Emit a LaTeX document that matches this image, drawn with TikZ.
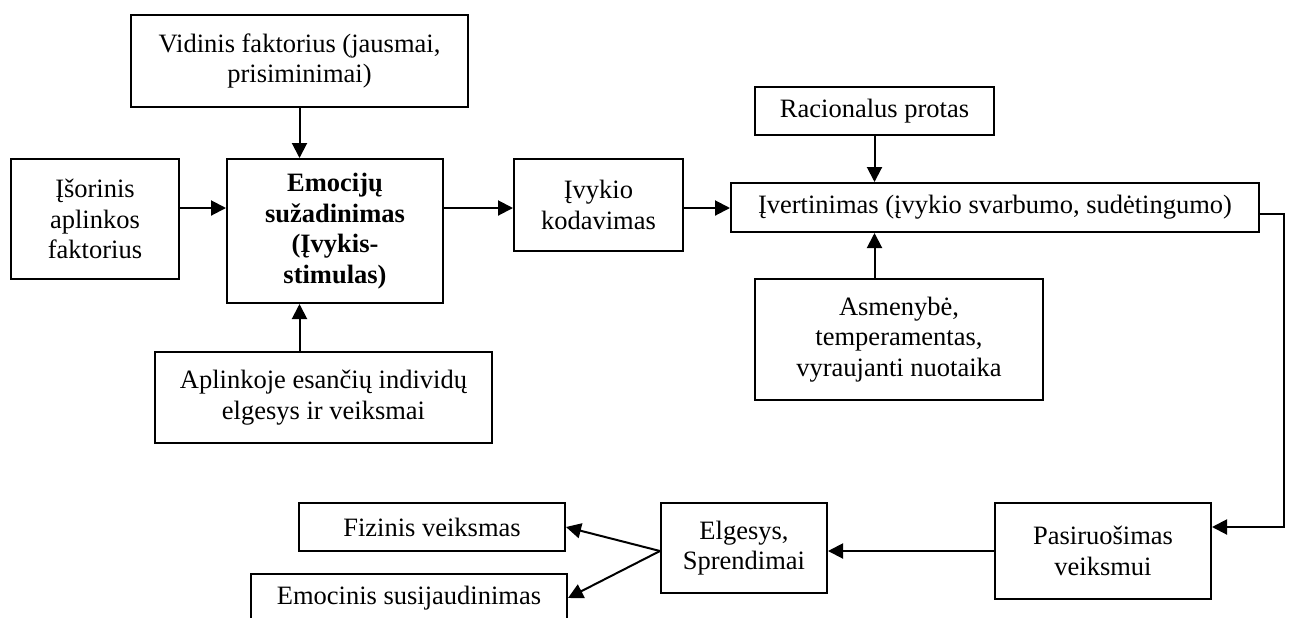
\documentclass[tikz,border=0pt]{standalone}
\usepackage{fontspec}
\setmainfont{Liberation Serif}
\usetikzlibrary{arrows.meta}
\begin{document}
\begin{tikzpicture}[x=0.5pt,y=-0.5pt,
  box/.style={draw, line width=1pt, rectangle, inner sep=0pt, align=center,
    font=\fontsize{13.25}{15.3}\selectfont},
  link/.style={line width=1pt, -{Triangle[length=7.5pt,width=7.5pt]}}]
\useasboundingbox (0,0) rectangle (1291,617);
\clip (0,0) rectangle (1291,617);

% boxes
\node[box, minimum width=168.5pt, minimum height=46pt] (vid) at (299.5,61)
  {Vidinis faktorius (jausmai,\\prisiminimai)};
\node[box, minimum width=84pt, minimum height=60pt] (isor) at (95,219)
  {Įšorinis\\aplinkos\\faktorius};
\node[box, minimum width=108pt, minimum height=72pt, font=\fontsize{13.25}{15.3}\selectfont\bfseries] (emo) at (335,231)
  {Emocijų\\sužadinimas\\(Įvykis-\\stimulas)};
\node[box, minimum width=168.5pt, minimum height=45.5pt] (apl) at (323.5,397.5)
  {Aplinkoje esančių individų\\elgesys ir veiksmai};
\node[box, minimum width=84.5pt, minimum height=46pt] (kod) at (598.5,205)
  {Įvykio\\kodavimas};
\node[box, minimum width=119.5pt, minimum height=24pt] (rac) at (874.5,111)
  {Racionalus protas};
\node[box, minimum width=264pt, minimum height=24.5pt] (ivert) at (995,207.5)
  {Įvertinimas (įvykio svarbumo, sudėtingumo)};
\node[box, minimum width=144pt, minimum height=60.5pt] (asm) at (899,339.5)
  {Asmenybė,\\temperamentas,\\vyraujanti nuotaika};
\node[box, minimum width=108pt, minimum height=48pt] (pas) at (1103,551)
  {Pasiruošimas\\veiksmui};
\node[box, minimum width=83pt, minimum height=45pt] (elg) at (744,548)
  {Elgesys,\\Sprendimai};
\node[box, minimum width=133pt, minimum height=24pt] (fiz) at (432,527)
  {Fizinis veiksmas};
\node[box, minimum width=158pt, minimum height=24pt] (emc) at (409,598)
  {Emocinis susijaudinimas};

% connectors
\coordinate (row) at (0,208);
\draw[link] (vid.south) -- (vid.south |- emo.north);
\draw[link] (isor.east |- row) -- (emo.west |- row);
\draw[link] (vid.south |- apl.north) -- (vid.south |- emo.south);
\draw[link] (emo.east |- row) -- (kod.west |- row);
\draw[link] (kod.east |- row) -- (ivert.west |- row);
\draw[link] (rac.south) -- (rac.south |- ivert.north);
\draw[link] (rac.south |- asm.north) -- (rac.south |- ivert.south);
\draw[link] ([yshift=-3.25pt]ivert.east) -- ++(12pt,0) |- ([yshift=12pt]pas.east);
\draw[link] (pas.west) -- (elg.east |- pas.west);
\coordinate (fork) at (elg.west |- pas.west);
\draw[link] (fork) -- (fiz.east);
\draw[link] (fork) -- (emc.east);
\end{tikzpicture}
\end{document}
